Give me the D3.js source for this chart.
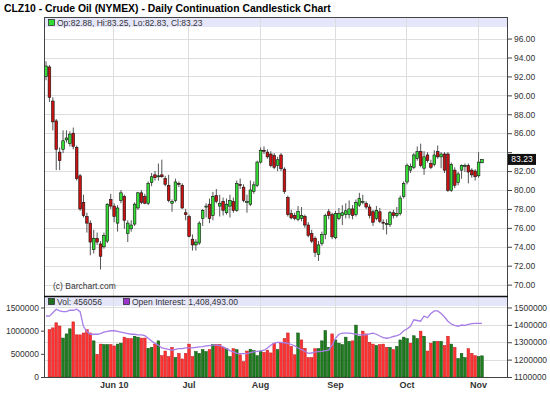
<!DOCTYPE html>
<html>
<head>
<meta charset="utf-8">
<script src="https://cdnjs.cloudflare.com/ajax/libs/d3/7.8.5/d3.min.js"></script>
<style>
body { margin: 0; background: #fff; }
svg { display: block; font-family: Arial, "Liberation Sans", sans-serif; }
</style>
</head>
<body>
<svg id="chart"></svg>
<script>
// daily OHLC, CLZ10, May 3 2010 .. Nov 2 2010
var open = [92.0,93.0,89.4,87.3,84.0,84.3,85.3,84.9,86.0,84.5,
    81.5,78.7,77.2,76.5,73.7,74.9,74.3,74.0,74.6,79.0,
    78.3,76.5,78.9,79.3,75.4,75.9,76.4,78.1,79.7,79.3,
    78.6,80.8,81.6,81.4,81.6,81.2,80.5,78.6,78.9,80.7,
    80.5,77.6,77.2,74.8,74.2,74.4,77.0,78.2,78.5,77.3,
    79.4,78.3,78.8,77.6,78.3,78.8,77.85,80.6,80.3,78.8,
    78.5,79.85,80.5,82.95,84.2,84.0,83.8,83.65,82.6,83.7,
    82.2,79.2,77.5,77.3,76.9,77.0,77.2,76.3,75.4,74.9,
    73.2,74.35,75.3,77.7,77.4,74.95,77.0,77.3,77.4,77.4,
    78.0,77.4,78.4,78.8,78.6,78.2,77.7,77.0,77.7,76.6,
    76.45,76.35,77.6,77.3,77.5,79.3,80.85,82.1,82.4,83.35,
    84.05,82.3,83.7,82.8,82.7,84.05,83.5,83.8,83.8,79.97,
    82.1,80.8,82.1,82.6,82.6,82.1,82.0,81.5,82.88];
var high = [93.6,93.2,89.8,87.5,84.5,86.3,86.3,86.2,86.6,84.7,
    81.7,79.5,77.6,76.8,75.8,75.5,74.6,75.5,78.6,79.6,
    78.6,78.4,80.0,79.5,76.8,76.8,78.7,79.8,80.0,79.6,
    80.9,81.8,82.0,82.8,83.2,81.5,81.6,79.0,81.2,80.9,
    80.7,78.0,77.4,75.3,74.8,76.7,78.0,78.6,79.1,79.8,
    80.1,79.5,79.2,79.1,79.5,79.2,81.0,81.2,80.6,79.5,
    81.0,80.9,83.1,84.5,84.6,84.3,84.1,83.9,83.5,83.9,
    82.4,79.4,77.9,77.6,78.3,78.2,77.4,76.6,75.8,75.1,
    74.6,75.6,77.5,78.0,77.6,77.8,78.1,78.4,78.6,78.9,
    78.4,79.0,79.7,79.5,78.8,78.5,77.9,78.3,78.1,76.9,
    76.9,77.8,77.9,78.2,79.4,80.9,82.8,82.8,83.9,84.6,
    84.9,84.1,84.0,83.2,84.2,84.7,84.0,84.0,84.0,82.9,
    82.4,81.9,82.7,82.8,82.8,82.3,82.2,84.0,83.25];
var low = [91.6,89.3,86.3,82.1,82.1,83.9,85.0,84.6,84.3,81.0,
    77.8,77.1,75.5,73.1,73.3,74.2,71.6,73.8,74.4,78.0,
    76.6,75.6,78.6,75.9,74.5,75.6,76.2,77.9,78.5,78.5,
    78.4,80.4,81.0,81.0,81.3,80.4,78.7,77.7,78.7,80.3,
    78.0,76.8,75.0,73.6,73.6,74.2,76.2,77.1,76.5,76.8,
    78.6,77.2,77.3,77.4,77.1,77.6,77.7,80.1,78.7,77.6,
    78.3,79.6,80.3,82.8,83.8,83.3,82.4,82.2,82.0,82.0,
    79.6,77.2,76.9,76.8,76.7,76.7,76.0,75.0,74.4,72.9,
    72.5,74.1,74.8,76.9,74.8,74.8,76.8,76.3,77.0,77.0,
    76.9,77.2,78.2,78.5,78.0,77.0,76.2,76.8,76.5,75.8,
    75.3,76.1,77.0,77.1,77.3,79.1,80.6,81.8,82.2,83.1,
    82.4,81.6,82.9,82.2,82.5,83.3,82.3,81.8,79.8,79.8,
    80.2,80.5,81.2,81.9,80.7,81.3,81.0,81.3,82.83];
var close = [93.1,89.8,87.2,84.3,83.1,85.2,85.5,85.9,84.6,81.2,
    78.0,77.3,76.5,74.5,74.9,74.5,73.0,75.2,78.5,78.3,
    77.2,78.1,79.7,76.8,76.5,76.3,78.5,79.7,78.7,78.6,
    80.7,81.4,81.3,81.5,81.4,80.6,78.9,78.8,80.85,80.6,
    78.1,77.4,75.1,74.2,74.5,76.5,77.85,78.3,77.0,79.3,
    78.8,78.6,77.85,78.5,78.9,77.85,80.7,80.5,78.9,78.8,
    80.0,80.55,82.95,84.2,84.1,83.5,82.6,82.4,83.2,82.25,
    79.85,77.4,77.05,77.0,77.75,77.3,76.3,75.2,74.6,73.4,
    74.2,75.3,77.3,77.3,75.05,77.5,77.5,77.6,77.8,78.0,
    77.3,78.7,79.1,78.8,78.2,77.3,76.6,77.85,76.7,76.55,
    76.45,77.6,77.3,77.5,79.15,80.7,82.6,82.5,83.7,84.05,
    82.6,83.5,83.1,82.4,83.7,83.5,83.8,82.1,79.97,82.7,
    80.5,81.7,82.6,82.6,81.9,81.6,81.4,82.95,83.23];
// first day has no volume bar on the chart
var volume = [null,1020000,1060000,1170000,1100000,840000,930000,1040000,1190000,910000,
    910000,950000,1020000,950000,780000,490000,710000,700000,700000,700000,
    670000,710000,730000,860000,830000,830000,880000,860000,840000,840000,
    620000,640000,710000,780000,460000,560000,440000,640000,420000,510000,
    390000,510000,710000,440000,550000,510000,590000,550000,590000,700000,
    700000,700000,640000,610000,440000,610000,590000,480000,330000,560000,
    600000,570000,460000,560000,530000,580000,520000,730000,590000,730000,
    830000,950000,660000,480000,950000,800000,620000,420000,420000,610000,
    610000,780000,1000000,640000,930000,800000,730000,700000,860000,770000,
    780000,1120000,880000,990000,930000,750000,710000,680000,700000,710000,
    640000,640000,590000,660000,800000,860000,830000,730000,890000,830000,
    990000,880000,560000,730000,770000,770000,770000,680000,880000,710000,
    640000,400000,510000,420000,610000,510000,460000,440000,456056];
var openInterest = [1451000,1450000,1470000,1490000,1480000,1476000,1476000,1484000,1484000,1490000,
    1476000,1390000,1362000,1346000,1346000,1346000,1350000,1358000,1362000,1366000,
    1366000,1362000,1358000,1354000,1350000,1346000,1346000,1342000,1342000,1338000,
    1323000,1307000,1293000,1283000,1267000,1263000,1259000,1254000,1259000,1263000,
    1263000,1267000,1267000,1267000,1271000,1273000,1275000,1279000,1281000,1283000,
    1283000,1281000,1273000,1263000,1252000,1244000,1236000,1234000,1234000,1234000,
    1240000,1244000,1248000,1250000,1254000,1267000,1283000,1295000,1299000,1299000,
    1297000,1293000,1287000,1279000,1267000,1257000,1248000,1236000,1238000,1244000,
    1246000,1248000,1252000,1254000,1283000,1323000,1346000,1352000,1352000,1352000,
    1350000,1346000,1342000,1342000,1342000,1348000,1352000,1346000,1336000,1327000,
    1323000,1327000,1333000,1338000,1346000,1366000,1376000,1392000,1429000,1425000,
    1421000,1451000,1441000,1465000,1480000,1480000,1465000,1445000,1421000,1405000,
    1397000,1392000,1399000,1397000,1403000,1407000,1409000,1409000,1408493];

// month labels and the index of each month's first trading day
var monthLabels = ["Jun 10", "Jul", "Aug", "Sep", "Oct", "Nov"];
var monthStart = [20, 42, 63, 85, 106, 127];

var priceTicks = [70, 72, 74, 76, 78, 80, 82, 84, 86, 88, 90, 92, 94, 96];
var volTicks = [0, 500000, 1000000, 1500000];
var oiTicks = [1100000, 1200000, 1300000, 1400000, 1500000];

var chartWidth = 550, chartHeight = 396;
var plotLeft = 44, plotRight = 507;
var priceTop = 17, priceBottom = 296, volTop = 296, volBottom = 377;
var bandH = 10;
var n = open.length;
var last = n - 1;
var fmt2 = d3.format(".2f");

var svg = d3.select('#chart')
    .attr('width', chartWidth)
    .attr('height', chartHeight);

svg.append('rect')
    .attr('width', chartWidth).attr('height', chartHeight)
    .attr('fill', '#fff');

// scales
var xScale = d3.scaleBand()
    .domain(d3.range(n))
    .range([44.7, 44.7 + 3.4 * n])
    .paddingInner(0.22);
var bw = xScale.bandwidth();
function cx(i) { return xScale(i) + bw / 2; }

var yPrice = d3.scaleLinear().domain([68.8, 98.28]).range([priceBottom, priceTop]);
var yVol = d3.scaleLinear().domain([0, 1748000]).range([volBottom, volTop]);
var yOI = d3.scaleLinear().domain([1100000, 1566000]).range([volBottom, volTop]);

// up day = close at or above the previous close
function isUp(i) { return i === 0 ? close[i] >= open[i] : close[i] >= close[i - 1]; }

// title
svg.append('text')
    .attr('x', 4).attr('y', 12)
    .attr('font-size', 10.4).attr('font-weight', 'bold')
    .attr('fill', '#000')
    .text('CLZ10 - Crude Oil (NYMEX) - Daily Continuation Candlestick Chart');

// header bands
svg.append('rect')
    .attr('x', plotLeft).attr('y', priceTop)
    .attr('width', plotRight - plotLeft).attr('height', bandH)
    .attr('fill', '#e6e6fb');
svg.append('rect')
    .attr('x', plotLeft).attr('y', volTop)
    .attr('width', plotRight - plotLeft).attr('height', bandH)
    .attr('fill', '#e6e6fb');

// grid
var grid = svg.append('g').attr('stroke', '#dddddd').attr('stroke-width', 1);
grid.selectAll('.hp')
    .data(priceTicks)
    .enter().append('line')
    .attr('x1', plotLeft).attr('x2', plotRight)
    .attr('y1', function (d) { return Math.round(yPrice(d)) + 0.5; })
    .attr('y2', function (d) { return Math.round(yPrice(d)) + 0.5; });
grid.selectAll('.hv')
    .data(oiTicks.slice(1))
    .enter().append('line')
    .attr('x1', plotLeft).attr('x2', plotRight)
    .attr('y1', function (d) { return Math.round(yOI(d)) + 0.5; })
    .attr('y2', function (d) { return Math.round(yOI(d)) + 0.5; });
grid.selectAll('.vm')
    .data(monthStart)
    .enter().append('line')
    .attr('x1', function (d) { return Math.round(cx(d)) - 0.5; })
    .attr('x2', function (d) { return Math.round(cx(d)) - 0.5; })
    .attr('y1', priceTop).attr('y2', volBottom);

// candles
var candles = svg.selectAll('g.candle')
    .data(d3.range(n))
    .enter()
    .append('g')
    .attr('class', 'candle');

candles.append('line')
    .attr('x1', cx).attr('x2', cx)
    .attr('y1', function (i) { return yPrice(high[i]); })
    .attr('y2', function (i) { return yPrice(low[i]); })
    .attr('stroke', '#555')
    .attr('stroke-width', 1);

candles.append('rect')
    .attr('x', function (i) { return xScale(i); })
    .attr('y', function (i) { return yPrice(Math.max(open[i], close[i])); })
    .attr('width', bw)
    .attr('height', function (i) {
        return Math.max(1, Math.abs(yPrice(open[i]) - yPrice(close[i])));
    })
    .attr('fill', function (i) { return close[i] >= open[i] ? '#33dd33' : '#cc1111'; })
    .attr('stroke', '#111')
    .attr('stroke-width', 0.6);

// volume bars
svg.selectAll('rect.vol')
    .data(d3.range(n).filter(function (i) { return volume[i] != null; }))
    .enter()
    .append('rect')
    .attr('class', 'vol')
    .attr('x', function (i) { return xScale(i); })
    .attr('y', function (i) { return yVol(volume[i]); })
    .attr('width', bw)
    .attr('height', function (i) { return yVol(0) - yVol(volume[i]); })
    .attr('fill', function (i) { return isUp(i) ? '#1e7d1e' : '#ff3333'; })
    .attr('stroke', function (i) { return isUp(i) ? '#0d4d0d' : '#c41a1a'; })
    .attr('stroke-width', 0.5);

// open interest line
svg.append('path')
    .datum(d3.range(n))
    .attr('fill', 'none')
    .attr('stroke', '#a77de8')
    .attr('stroke-width', 1.3)
    .attr('d', d3.line()
        .x(cx)
        .y(function (i) { return yOI(openInterest[i]); }));

// panel borders
svg.append('rect')
    .attr('x', plotLeft + 0.5).attr('y', priceTop + 0.5)
    .attr('width', plotRight - plotLeft).attr('height', priceBottom - priceTop)
    .attr('fill', 'none').attr('stroke', '#444');
svg.append('rect')
    .attr('x', plotLeft + 0.5).attr('y', volTop + 0.5)
    .attr('width', plotRight - plotLeft).attr('height', volBottom - volTop)
    .attr('fill', 'none').attr('stroke', '#444');
svg.append('line')
    .attr('x1', plotLeft).attr('x2', plotRight + 1)
    .attr('y1', volTop + 0.5).attr('y2', volTop + 0.5)
    .attr('stroke', '#111').attr('stroke-width', 1.5);

// price header
svg.append('rect')
    .attr('x', 48.5).attr('y', 19.5).attr('width', 6).attr('height', 6)
    .attr('fill', '#33dd33').attr('stroke', '#222').attr('stroke-width', 0.7);
svg.append('text')
    .attr('x', 57).attr('y', 25.5)
    .attr('font-size', 8.5).attr('fill', '#333')
    .text('Op:' + fmt2(open[last]) + ', Hi:' + fmt2(high[last]) +
        ', Lo:' + fmt2(low[last]) + ', Cl:' + fmt2(close[last]));

// volume header
svg.append('rect')
    .attr('x', 48.5).attr('y', 298.5).attr('width', 6).attr('height', 6)
    .attr('fill', '#1e6e1e').attr('stroke', '#222').attr('stroke-width', 0.7);
svg.append('text')
    .attr('x', 57).attr('y', 304.5)
    .attr('font-size', 8.5).attr('fill', '#333')
    .text('Vol: ' + volume[last]);
svg.append('rect')
    .attr('x', 123.5).attr('y', 298.5).attr('width', 6).attr('height', 6)
    .attr('fill', '#9933cc').attr('stroke', '#222').attr('stroke-width', 0.7);
svg.append('text')
    .attr('x', 132).attr('y', 304.5)
    .attr('font-size', 8.5).attr('fill', '#333')
    .text('Open Interest: ' + d3.format(",.2f")(openInterest[last]));

// copyright
svg.append('text')
    .attr('x', 53).attr('y', 289)
    .attr('font-size', 8.5).attr('fill', '#333')
    .text('(c) Barchart.com');

// price axis (right)
var priceAxis = svg.append('g')
    .attr('transform', 'translate(' + (plotRight + 1) + ',0)')
    .call(d3.axisRight(yPrice)
        .tickValues(priceTicks)
        .tickSize(4)
        .tickPadding(2)
        .tickFormat(function (d) {
            return Math.abs(yPrice(d) - yPrice(close[last])) < 9 ? '' : fmt2(d);
        }));
priceAxis.select('.domain').remove();
priceAxis.selectAll('text').attr('font-size', 8.5).attr('fill', '#333').attr('font-family', null);
priceAxis.selectAll('line').attr('stroke', '#444');

// last price marker
var lastY = yPrice(close[last]);
svg.append('rect')
    .attr('x', plotRight + 1).attr('y', lastY - 5.5)
    .attr('width', 28).attr('height', 11)
    .attr('fill', '#111');
svg.append('text')
    .attr('x', plotRight + 15).attr('y', lastY + 3)
    .attr('text-anchor', 'middle')
    .attr('font-size', 8.5).attr('fill', '#fff')
    .text(fmt2(close[last]));

// volume axis (left)
var volAxis = svg.append('g')
    .attr('transform', 'translate(' + plotLeft + ',0)')
    .call(d3.axisLeft(yVol)
        .tickValues(volTicks)
        .tickSize(3)
        .tickPadding(2)
        .tickFormat(d3.format('d')));
volAxis.select('.domain').remove();
volAxis.selectAll('text').attr('font-size', 8.5).attr('fill', '#333').attr('font-family', null);
volAxis.selectAll('line').attr('stroke', '#444');

// open interest axis (right)
var oiAxis = svg.append('g')
    .attr('transform', 'translate(' + (plotRight + 1) + ',0)')
    .call(d3.axisRight(yOI)
        .tickValues(oiTicks)
        .tickSize(4)
        .tickPadding(2)
        .tickFormat(d3.format('d')));
oiAxis.select('.domain').remove();
oiAxis.selectAll('text').attr('font-size', 8.5).attr('fill', '#333').attr('font-family', null);
oiAxis.selectAll('line').attr('stroke', '#444');

// month labels
svg.selectAll('text.month')
    .data(monthStart)
    .enter()
    .append('text')
    .attr('class', 'month')
    .attr('x', function (d) { return cx(d); })
    .attr('y', 388)
    .attr('text-anchor', 'middle')
    .attr('font-size', 9).attr('font-weight', 'bold').attr('fill', '#333')
    .text(function (d, i) { return monthLabels[i]; });
</script>
</body>
</html>
